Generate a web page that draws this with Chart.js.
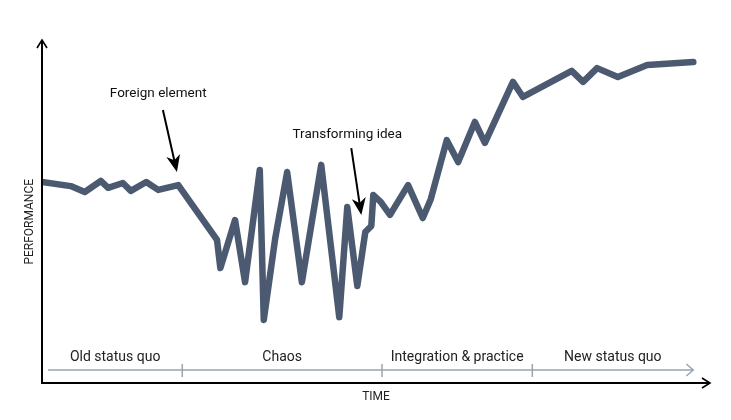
<!DOCTYPE html>
<html>
<head>
<meta charset="utf-8">
<script src="https://cdn.jsdelivr.net/npm/chart.js@4"></script>
<style>
html,body{margin:0;padding:0;background:#fff;}
#wrap{width:731px;height:420px;}
</style>
</head>
<body>
<div id="wrap"><canvas id="grafico" width="731" height="420"></canvas></div>
<script>

// time (0-100) and performance (0-100)
const tempo = [0,4.3,6.4,8.8,9.9,12.1,13.3,15.6,17.4,20.4,26.2,26.7,28.9,30.4,32.6,33.2,34.9,36.7,38.9,41.8,44.5,45.7,47.2,48.4,49.3,49.6,50.7,52.1,54.8,57.0,58.2,60.6,62.3,64.8,66.3,70.5,72.0,79.3,81.0,83.1,86.2,90.6,97.5];
const performance = [58.6,57.4,55.7,58.9,56.9,58.3,56.0,58.6,56.3,57.7,41.7,33.5,47.5,29.4,62.1,18.4,42.0,61.5,29.4,63.6,19.2,51.3,28.3,44.0,45.8,54.8,52.8,49.0,57.7,48.1,53.6,70.8,64.4,76.1,70.0,87.8,83.4,91.0,87.8,91.8,89.2,92.7,93.6];

const fases = ["Old status quo","Chaos","Integration & practice","New status quo"];
const limitesFases = [0.9,21.0,50.9,73.4,97.5];

const anotacoes = [
 {texto:"Foreign element", t:17.4, p:84.5, de:[18.1,79.6], para:[20.2,61.5]},
 {texto:"Transforming idea", t:45.7, p:72.3, de:[46.3,68.5], para:[47.8,49.0]}
];

const fonte = '"Liberation Sans Narrow", "Roboto", sans-serif';

const desenhos = {
 id:"desenhos",
 afterDatasetsDraw(chart){
  const c = chart.ctx, xs = chart.scales.x, ys = chart.scales.y;
  const X = v=>xs.getPixelForValue(v), Y = v=>ys.getPixelForValue(v);
  const a = chart.chartArea;
  c.save();

  // axes
  c.strokeStyle="#000"; c.lineWidth=2; c.lineCap="butt";
  c.beginPath();
  c.moveTo(a.left, a.top); c.lineTo(a.left, a.bottom); c.lineTo(a.right, a.bottom);
  c.stroke();
  c.lineWidth=1.6;
  c.beginPath();
  c.moveTo(a.left-5, a.top+8); c.lineTo(a.left, a.top); c.lineTo(a.left+5, a.top+8);
  c.moveTo(a.right-8, a.bottom-5); c.lineTo(a.right, a.bottom); c.lineTo(a.right-8, a.bottom+5);
  c.stroke();

  // phase bar
  const yb = Y(3.8);
  c.strokeStyle="#9aa4ae"; c.lineWidth=1.5;
  c.beginPath();
  c.moveTo(X(limitesFases[0]), yb); c.lineTo(X(limitesFases[4]), yb);
  for(let i=1;i<4;i++){ c.moveTo(X(limitesFases[i]), yb-6); c.lineTo(X(limitesFases[i]), yb+7); }
  const xe = X(limitesFases[4]);
  c.moveTo(xe-7, yb-6); c.lineTo(xe, yb); c.lineTo(xe-7, yb+6);
  c.stroke();

  c.fillStyle="#222"; c.font="14px "+fonte; c.textAlign="center"; c.textBaseline="middle";
  fases.forEach((f,i)=>{
   c.fillText(f, X((limitesFases[i]+limitesFases[i+1])/2), yb-12);
  });

  // axis titles
  c.font="12px "+fonte;
  c.fillText("TIME", X(50.0), a.bottom+14);
  c.save();
  c.translate(a.left-12, Y(47));
  c.rotate(-Math.PI/2);
  c.fillText("PERFORMANCE", 0, 0);
  c.restore();

  // annotations
  anotacoes.forEach(an=>{
   c.fillStyle="#111"; c.font="13.5px "+fonte;
   c.fillText(an.texto, X(an.t), Y(an.p));
   const x0=X(an.de[0]), y0=Y(an.de[1]), x1=X(an.para[0]), y1=Y(an.para[1]);
   const ang=Math.atan2(y1-y0, x1-x0);
   c.strokeStyle="#000"; c.lineWidth=2;
   c.beginPath(); c.moveTo(x0,y0);
   c.lineTo(x1-10*Math.cos(ang), y1-10*Math.sin(ang)); c.stroke();
   c.save();
   c.translate(x1,y1); c.rotate(ang);
   c.beginPath();
   c.moveTo(0,0); c.lineTo(-17,-7); c.lineTo(-12,0); c.lineTo(-17,7); c.closePath();
   c.fillStyle="#000"; c.fill();
   c.restore();
  });
  c.restore();
 }
};

new Chart(
document.getElementById("grafico"),
{
 type:"line",
 data:{
  datasets:[{
   data: tempo.map((t,i)=>({x:t, y:performance[i]})),
   borderColor:"#4b5a70",
   borderWidth:6.5,
   borderCapStyle:"round",
   borderJoinStyle:"round",
   pointRadius:0,
   tension:0,
   fill:false
  }]
 },
 options:{
  responsive:false,
  animation:false,
  layout:{padding:{left:42,right:21,top:40,bottom:37}},
  plugins:{legend:{display:false},tooltip:{enabled:false}},
  scales:{
   x:{type:"linear",min:0,max:100,display:false},
   y:{min:0,max:100,display:false}
  }
 },
 plugins:[desenhos]
}
);

</script>
</body>
</html>
